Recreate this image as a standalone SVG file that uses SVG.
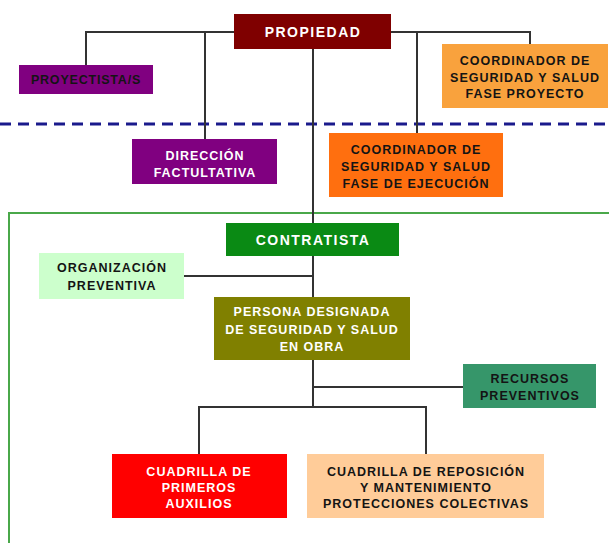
<svg xmlns="http://www.w3.org/2000/svg" width="609" height="543" viewBox="0 0 609 543">
<style>
text{font-family:"Liberation Sans",Arial,sans-serif;font-weight:bold;font-size:12.5px;text-anchor:middle;letter-spacing:1px}
.w{fill:#ffffff}
.k{fill:#141414}
.ln{stroke:#333333;stroke-width:2;fill:none}
</style>
<rect x="0" y="0" width="609" height="543" fill="#ffffff"/>
<line x1="0" y1="124" x2="609" y2="124" stroke="#1a1a8c" stroke-width="3" stroke-dasharray="11,7"/>
<rect x="9" y="213" width="610" height="340" fill="none" stroke="#4aa84a" stroke-width="2"/>
<g id="connectors">
<polyline class="ln" points="86,65 86,32 530,32 530,44"/>
<line class="ln" x1="205" y1="32" x2="205" y2="139"/>
<line class="ln" x1="417" y1="32" x2="417" y2="133"/>
<line class="ln" x1="313" y1="49" x2="313" y2="223"/>
<line class="ln" x1="313" y1="256" x2="313" y2="297"/>
<line class="ln" x1="184" y1="276" x2="313" y2="276"/>
<line class="ln" x1="313" y1="360" x2="313" y2="407"/>
<line class="ln" x1="313" y1="387" x2="463" y2="387"/>
<polyline class="ln" points="199,454 199,407 426,407 426,454"/>
</g>
<g id="propiedad"><rect x="234" y="14" width="157" height="35" fill="#7f0000"/><text class="w" x="313" y="37" style="font-size:14px;letter-spacing:1.5px">PROPIEDAD</text></g>
<g id="proyectistas"><rect x="19" y="65" width="134" height="29" fill="#800080"/><text class="k" x="86" y="84" style="letter-spacing:0.8px">PROYECTISTA/S</text></g>
<g id="coord-proyecto"><rect x="442" y="44" width="166" height="64" fill="#f9a23d"/><text class="k" x="525" y="65">COORDINADOR DE</text><text class="k" x="525" y="81.5">SEGURIDAD Y SALUD</text><text class="k" x="525" y="98">FASE PROYECTO</text></g>
<g id="direccion"><rect x="132" y="139" width="145" height="45" fill="#800080"/><text class="w" x="205" y="159.5">DIRECCIÓN</text><text class="w" x="205" y="176.5">FACTULTATIVA</text></g>
<g id="coord-ejecucion"><rect x="329" y="133" width="174" height="64" fill="#ff6f0f"/><text class="k" x="416" y="153.5">COORDINADOR DE</text><text class="k" x="416" y="171">SEGURIDAD Y SALUD</text><text class="k" x="416" y="187.5">FASE DE EJECUCIÓN</text></g>
<g id="contratista"><rect x="226" y="223" width="173" height="33" fill="#0a8a14"/><text class="w" x="313" y="245" style="font-size:14px;letter-spacing:1.5px">CONTRATISTA</text></g>
<g id="organizacion"><rect x="39" y="253" width="145" height="46" fill="#ccffcc"/><text class="k" x="112" y="271.5">ORGANIZACIÓN</text><text class="k" x="112" y="289.5">PREVENTIVA</text></g>
<g id="persona"><rect x="214" y="297" width="196" height="63" fill="#808000"/><text class="w" x="312" y="316">PERSONA DESIGNADA</text><text class="w" x="312" y="334">DE SEGURIDAD Y SALUD</text><text class="w" x="312" y="351">EN OBRA</text></g>
<g id="recursos"><rect x="463" y="364" width="133" height="44" fill="#36966a"/><text class="k" x="530" y="382.5">RECURSOS</text><text class="k" x="530" y="399.5">PREVENTIVOS</text></g>
<g id="primeros-auxilios"><rect x="112" y="454" width="175" height="64" fill="#ff0000"/><text class="w" x="199" y="475.5">CUADRILLA DE</text><text class="w" x="199" y="491.5">PRIMEROS</text><text class="w" x="199" y="508">AUXILIOS</text></g>
<g id="reposicion"><rect x="307" y="454" width="237" height="64" fill="#ffcc99"/><text class="k" x="426" y="475.5">CUADRILLA DE REPOSICIÓN</text><text class="k" x="426" y="491.5">Y MANTENIMIENTO</text><text class="k" x="426" y="508">PROTECCIONES COLECTIVAS</text></g>
</svg>
